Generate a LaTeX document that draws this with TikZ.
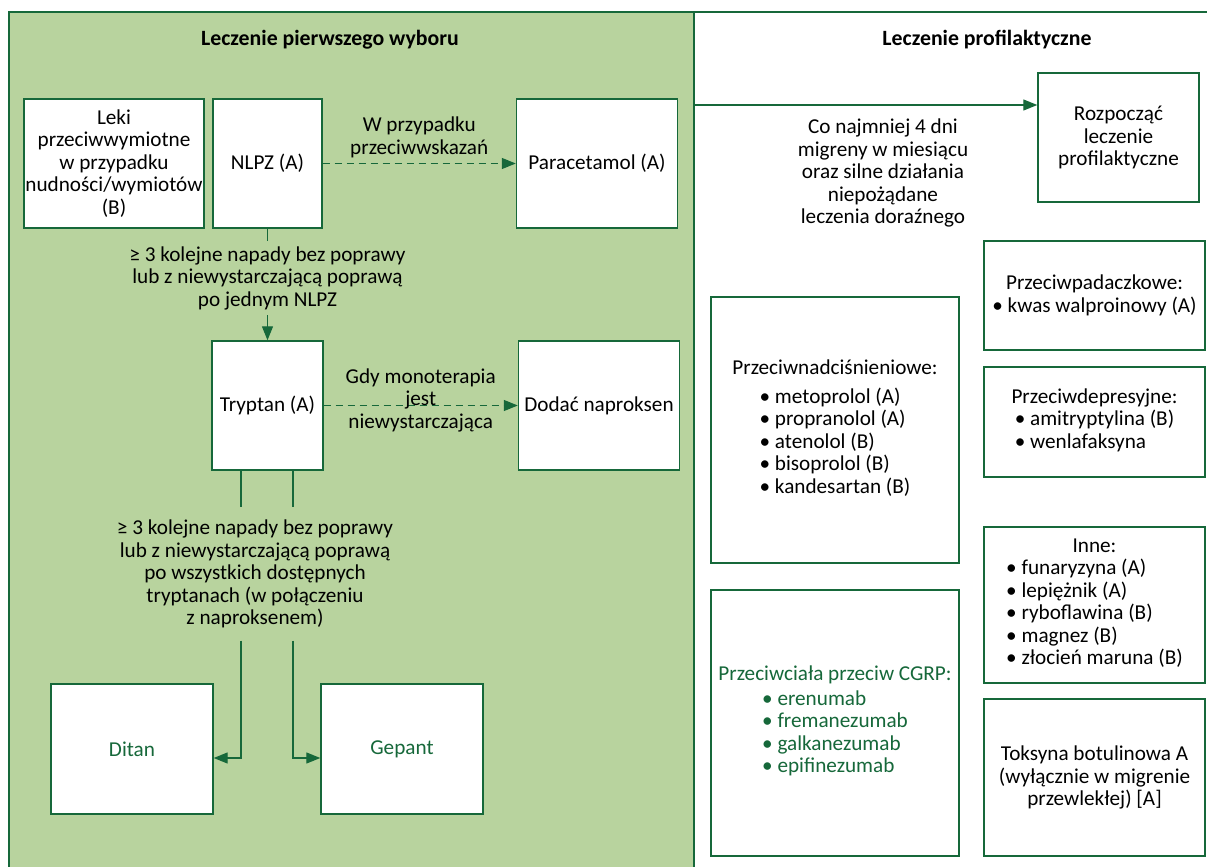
\documentclass[tikz,border=0pt]{standalone}
\usepackage{fontspec}
\setmainfont{Carlito}
\usepackage{tikz}
\usetikzlibrary{arrows.meta}
\definecolor{panelgreen}{RGB}{184,211,158}
\definecolor{darkgreen}{RGB}{22,104,58}

\begin{document}
\begin{tikzpicture}[x=0.5pt, y=-0.5pt, line width=0.65pt,
				    >={Triangle[length=7pt, width=5.5pt]},
				    box/.style={draw=darkgreen, fill=white, line width=0.7pt, align=center,
				    			 text=black, inner sep=2pt,
				    			 font=\fontsize{10.6pt}{11.25pt}\selectfont},
				    note/.style={align=center, inner sep=2.5pt, text=black,
				    			 font=\fontsize{10.6pt}{11.25pt}\selectfont},
				    heading/.style={font=\bfseries\fontsize{10.9pt}{12pt}\selectfont}]
	\useasboundingbox (0,0) rectangle (1207,867);
	% panel of first choice treatment
	\fill[panelgreen] (9,12) rectangle (694,867);
	\draw[darkgreen, line width=0.7pt] (9,867) -- (9,12) -- (1207,12);
	\draw[darkgreen, line width=0.7pt] (694,12) -- (694,867);

	\node[heading] (title1) at (330,40) {Leczenie pierwszego wyboru};
	\node[heading] (title2) at (987,40) {Leczenie profilaktyczne};

	\node[box, inner xsep=0.3pt, minimum width=90pt, minimum height=64.5pt] (leki) at (114,163.5) {Leki\\przeciwwymiotne\\w przypadku\\nudności/wymiotów\\(B)};
	\node[box, minimum width=54.5pt, minimum height=64.5pt] (nlpz) at (267.5,163.5) {NLPZ (A)};
	\node[box, minimum width=80.5pt, minimum height=64.5pt] (para) at (597,163.5) {Paracetamol (A)};
	\node[box, minimum width=55.5pt, minimum height=64.5pt] (tryp) at (267.5,405.5) {Tryptan (A)};
	\node[box, minimum width=80.5pt, minimum height=64.5pt] (napr) at (599,405.5) {Dodać naproksen};
	\node[box, text=darkgreen, minimum width=81pt, minimum height=65pt] (ditan) at (132,749) {Ditan};
	\node[box, text=darkgreen, minimum width=81pt, minimum height=65pt] (gepant) at (402,749) {Gepant};

	\node[note] (crit1) at (267.5,278) {≥ 3 kolejne napady bez poprawy\\lub z niewystarczającą poprawą\\po jednym NLPZ};
	\node[note, inner ysep=6pt] (crit2) at (255,574) {≥ 3 kolejne napady bez poprawy\\lub z niewystarczającą poprawą\\po wszystkich dostępnych\\tryptanach (w połączeniu\\z naproksenem)};

	% prophylactic treatment
	\node[box, minimum width=80.5pt, minimum height=64.5pt] (rozp) at (1118.5,137.5) {Rozpocząć\\leczenie\\profilaktyczne};
	\node[note] (crit3) at (883,173) {Co najmniej 4 dni\\migreny w miesiącu\\oraz silne działania\\niepożądane\\leczenia doraźnego};
	\node[box, minimum width=124pt, minimum height=133pt] (hyper) at (835,430) {Przeciwnadciśnieniowe:\\[3pt]\begin{tabular}[t]{@{}l@{}}• metoprolol (A)\\• propranolol (A)\\• atenolol (B)\\• bisoprolol (B)\\• kandesartan (B)\end{tabular}};
	\node[box, text=darkgreen, minimum width=124pt, minimum height=133pt] (cgrp) at (835,723) {Przeciwciała przeciw CGRP:\\[1pt]\begin{tabular}[t]{@{}l@{}}• erenumab\\• fremanezumab\\• galkanezumab\\• epifinezumab\end{tabular}};
	\node[box, minimum width=110.5pt, minimum height=54.5pt] (epil) at (1094.5,295.5) {Przeciwpadaczkowe:\\• kwas walproinowy (A)};
	\node[box, minimum width=110.5pt, minimum height=55pt] (depr) at (1094.5,422) {Przeciwdepresyjne:\\\begin{tabular}[t]{@{}l@{}}• amitryptylina (B)\\• wenlafaksyna\end{tabular}};
	\node[box, minimum width=110.5pt, minimum height=78pt] (other) at (1094.5,605) {Inne:\\\begin{tabular}[t]{@{}l@{}}• funaryzyna (A)\\• lepiężnik (A)\\• ryboflawina (B)\\• magnez (B)\\• złocień maruna (B)\end{tabular}};
	\node[box, minimum width=110.5pt, minimum height=78.5pt] (botox) at (1094.5,777.5) {Toksyna botulinowa A\\(wyłącznie w migrenie\\przewlekłej) [A]};

	\coordinate (tl) at (241,0);
	\coordinate (tr) at (293,0);
	\coordinate (pe) at (694,105);

	\draw[darkgreen] (nlpz.south) -- (crit1.north);
	\draw[darkgreen, ->] (crit1.south) -- (tryp.north);
	\draw[darkgreen, dash pattern=on 3.5pt off 2.5pt, ->] (nlpz) -- node[note, above] {W przypadku\\przeciwwskazań} (para);
	\draw[darkgreen, dash pattern=on 3.5pt off 2.5pt, ->] (tryp) -- node[note, yshift=2.75pt] {Gdy monoterapia\\jest\\niewystarczająca} (napr);
	\draw[darkgreen] (tryp.south -| tl) -- (crit2.north -| tl);
	\draw[darkgreen] (tryp.south -| tr) -- (crit2.north -| tr);
	\draw[darkgreen, ->] (crit2.south -| tl) |- ([yshift=-4.5pt]ditan.east);
	\draw[darkgreen, ->] (crit2.south -| tr) |- ([yshift=-4.5pt]gepant.west);
	\draw[darkgreen, ->] (pe) -- (pe -| rozp.west);

\end{tikzpicture}
\end{document}
